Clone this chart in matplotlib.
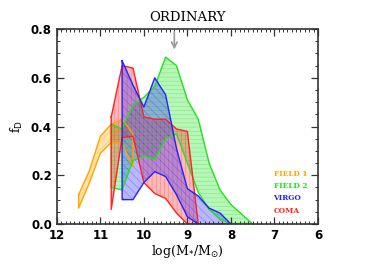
import matplotlib
matplotlib.use("Agg")
import matplotlib.pyplot as plt
from matplotlib.ticker import MultipleLocator

# band data: x = log stellar mass, hi/lo = band edges of f_D
field1_x = [11.5, 11.25, 11.0, 10.75, 10.5, 10.25]
field1_hi = [0.12, 0.22, 0.36, 0.41, 0.43, 0.37]
field1_lo = [0.065, 0.17, 0.29, 0.335, 0.33, 0.235]

field2_x = [10.75, 10.5, 10.25, 10.0, 9.75, 9.5, 9.25, 9.0, 8.75, 8.5, 8.25, 8.0, 7.75, 7.5]
field2_hi = [0.41, 0.39, 0.49, 0.52, 0.565, 0.685, 0.65, 0.51, 0.43, 0.25, 0.14, 0.08, 0.04, 0.0]
field2_lo = [0.15, 0.14, 0.26, 0.28, 0.265, 0.35, 0.37, 0.25, 0.13, 0.06, 0.02, 0.0, 0.0, 0.0]

virgo_x = [10.5, 10.25, 10.0, 9.75, 9.5, 9.25, 9.0, 8.75, 8.5, 8.25, 8.0]
virgo_hi = [0.67, 0.57, 0.48, 0.60, 0.53, 0.31, 0.145, 0.115, 0.065, 0.045, 0.0]
virgo_lo = [0.10, 0.10, 0.17, 0.215, 0.195, 0.12, 0.03, 0.0, 0.0, 0.0, 0.0]

coma_x = [10.75, 10.5, 10.25, 10.0, 9.75, 9.5, 9.25, 9.0, 8.75]
coma_hi = [0.44, 0.65, 0.64, 0.44, 0.43, 0.43, 0.39, 0.38, 0.0]
coma_lo = [0.06, 0.355, 0.36, 0.17, 0.125, 0.105, 0.045, 0.0, 0.0]

labels = ["FIELD 1", "FIELD 2", "VIRGO", "COMA"]
colors = ["#ffa500", "#22e022", "#2222ff", "#ff2222"]
hatches = ["////", "----", "\\\\\\\\", "||||"]

arrow_x = 9.3

plt.rcParams["hatch.linewidth"] = 0.4

fig = plt.figure(figsize=(3.74, 2.67), dpi=100)
ax = fig.add_axes([0.152, 0.161, 0.698, 0.730])

bands = [
    (field1_x, field1_hi, field1_lo),
    (field2_x, field2_hi, field2_lo),
    (coma_x, coma_hi, coma_lo),
    (virgo_x, virgo_hi, virgo_lo),
]
order = [0, 1, 3, 2]
for (x, hi, lo), i in zip(bands, order):
    c = colors[i]
    ax.fill_between(x, lo, hi, facecolor=c, alpha=0.32, linewidth=0)
    ax.fill_between(x, lo, hi, facecolor="none", edgecolor=c, alpha=0.4,
                    hatch=hatches[i], linewidth=0)
    # closed outline of the band
    px = list(x) + list(x[::-1]) + [x[0]]
    py = list(hi) + list(lo[::-1]) + [hi[0]]
    ax.plot(px, py, color=c, lw=1.0)

ax.set_xlim(12, 6)
ax.set_ylim(0, 0.8)
ax.xaxis.set_major_locator(MultipleLocator(1))
ax.xaxis.set_minor_locator(MultipleLocator(0.1))
ax.yaxis.set_major_locator(MultipleLocator(0.2))
ax.yaxis.set_minor_locator(MultipleLocator(0.05))
ax.tick_params(which="both", direction="in", top=True, right=True, color="#333333")
ax.tick_params(which="major", length=5, width=0.9, labelsize=8.5)
ax.tick_params(which="minor", length=2.5, width=0.7)
ax.set_yticks([0.0, 0.2, 0.4, 0.6, 0.8])
ax.set_yticklabels(["0.0", "0.2", "0.4", "0.6", "0.8"])
for lab in ax.get_xticklabels() + ax.get_yticklabels():
    lab.set_fontweight("bold")
for s in ax.spines.values():
    s.set_linewidth(1.2)
    s.set_color("#333333")

ax.set_xlabel(r"log(M$_{*}$/M$_{\odot}$)", family="DejaVu Serif", fontsize=9, labelpad=1)
ax.set_ylabel(r"f$_{\rm D}$", family="DejaVu Serif", fontsize=9, labelpad=4)
ax.set_title("ORDINARY", family="DejaVu Serif", fontsize=9.5, pad=6)

ax.annotate("", xy=(arrow_x, 0.705), xytext=(arrow_x, 0.8),
            arrowprops=dict(arrowstyle="->", color="#999999", lw=1.2))

for k, (lab, c) in enumerate(zip(labels, colors)):
    ax.text(7.02, 0.205 - 0.05 * k, lab, color=c, fontsize=5.3,
            family="DejaVu Serif", fontweight="bold", va="center", ha="left")

fig.savefig("out.png", dpi=100)
